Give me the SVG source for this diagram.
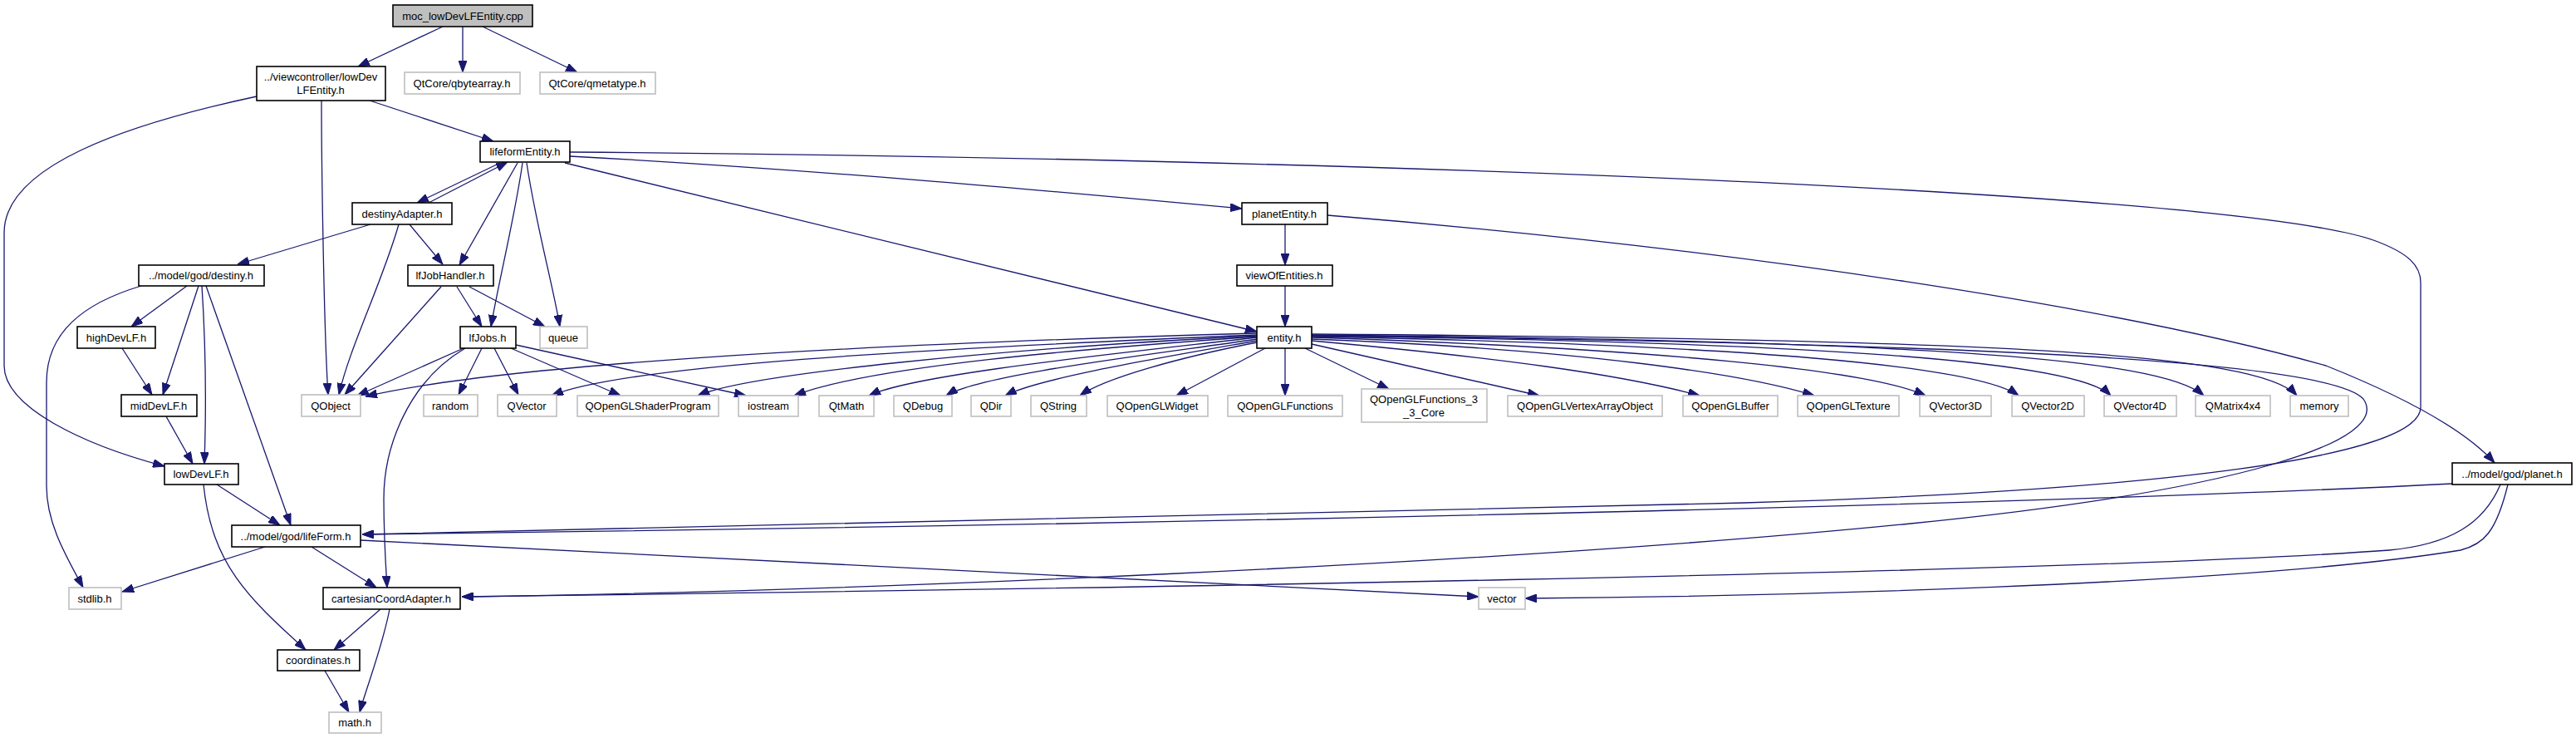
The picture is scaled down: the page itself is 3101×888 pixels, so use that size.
<svg xmlns="http://www.w3.org/2000/svg" width="3101" height="888" viewBox="0 0 3101 888">
<style>
.n rect{fill:#fff;stroke:#000;stroke-width:1.6}
.x rect{fill:#fff;stroke:#bfbfbf;stroke-width:1.6}
.r rect{fill:#bfbfbf;stroke:#000;stroke-width:1.6}
text{font-family:"Liberation Sans",Arial,sans-serif;font-size:13px;text-anchor:middle;fill:#000}
#edges path{fill:none;stroke:#191970;stroke-width:1.3;marker-end:url(#ah)}
</style>
<defs>
<marker id="ah" markerUnits="userSpaceOnUse" markerWidth="14" markerHeight="10" viewBox="0 0 14 10" refX="14" refY="5" orient="auto">
<path d="M0,0 L14,5 L0,10 z" fill="#191970" stroke="#191970" stroke-width="1"/>
</marker>
</defs>
<rect width="3101" height="888" fill="#fff"/>
<g id="edges">
<path d="M533,32 L431,80"/>
<path d="M557,32 L557,87"/>
<path d="M581,32 L695,87"/>
<path d="M445,121 L594,170"/>
<path d="M387,121 C387,200 390,400 395,475"/>
<path d="M309,116 C150,150 5,200 5,280 L5,440 C5,490 100,535 198,561"/>
<path d="M600,197 L502,244"/>
<path d="M516,244 L611,195"/>
<path d="M623,196 L553,319"/>
<path d="M629,196 C620,260 600,340 591,393"/>
<path d="M634,196 C645,270 665,340 674,393"/>
<path d="M680,196 L1513,399"/>
<path d="M686,188 C1000,205 1300,233 1495,251"/>
<path d="M686,183 C1600,190 2700,230 2860,290 C2900,305 2914,320 2914,340 L2914,490 C2914,550 2600,590 2100,605 C1500,622 900,637 436,643"/>
<path d="M1547,270 L1547,319"/>
<path d="M1547,344 L1547,393"/>
<path d="M1598,259 C2100,300 2550,370 2800,440 C2900,480 2970,520 3003,557"/>
<path d="M446,270 L286,318"/>
<path d="M480,270 C460,340 420,420 408,475"/>
<path d="M493,270 L533,318"/>
<path d="M531,345 L415,475"/>
<path d="M550,345 L580,393"/>
<path d="M565,345 L656,393"/>
<path d="M558,419 L430,476"/>
<path d="M560,419 C490,460 462,540 462,600 C462,650 465,690 466,707"/>
<path d="M580,419 L552,475"/>
<path d="M595,419 L624,475"/>
<path d="M615,419 L747,476"/>
<path d="M621,415 L898,476"/>
<path d="M170,344 C100,365 56,400 56,460 L56,585 C56,630 80,670 100,707"/>
<path d="M225,344 L158,393"/>
<path d="M239,344 L196,475"/>
<path d="M243,344 C248,420 248,500 246,558"/>
<path d="M248,344 L350,632"/>
<path d="M147,419 L183,475"/>
<path d="M200,501 L232,558"/>
<path d="M261,583 L337,632"/>
<path d="M245,583 C255,680 300,720 368,782"/>
<path d="M319,658 L147,712"/>
<path d="M375,658 L453,707"/>
<path d="M434,650 L1780,718"/>
<path d="M458,733 L402,782"/>
<path d="M469,733 C460,780 440,830 433,857"/>
<path d="M391,807 L420,857"/>
<path d="M2952,582 C2500,605 1500,630 436,643"/>
<path d="M3010,583 C2990,630 2950,655 2876,662 C2500,690 1200,710 556,718"/>
<path d="M3019,583 C3005,640 2990,655 2962,662 C2700,705 2100,718 1836,720"/>
<path d="M1579,404 C2300,412 2800,430 2845,480 C2880,530 2700,590 2300,630 C1800,680 1000,712 556,718"/>
<path d="M1513,401 C1000,415 600,440 440,477"/>
<path d="M1513,403 C1100,420 750,440 664,476"/>
<path d="M1513,404 C1200,420 900,450 840,476"/>
<path d="M1513,405 C1300,420 1050,440 956,476"/>
<path d="M1513,406 C1350,425 1100,450 1046,476"/>
<path d="M1513,408 C1400,425 1180,450 1139,476"/>
<path d="M1513,410 C1400,430 1250,455 1210,476"/>
<path d="M1513,412 C1420,430 1330,455 1300,476"/>
<path d="M1523,419 L1416,476"/>
<path d="M1547,419 L1547,476"/>
<path d="M1571,419 L1672,468"/>
<path d="M1579,414 L1853,476"/>
<path d="M1579,410 C1800,430 1950,450 2046,476"/>
<path d="M1579,408 C1900,420 2100,450 2184,476"/>
<path d="M1579,406 C2000,420 2250,445 2318,476"/>
<path d="M1579,405 C2100,415 2380,440 2430,476"/>
<path d="M1579,404 C2200,412 2500,435 2541,476"/>
<path d="M1579,403 C2300,410 2600,430 2653,476"/>
<path d="M1579,402 C2400,408 2720,425 2765,476"/>
</g>
<g id="moc" class="r"><rect x="473" y="6" width="168" height="26"/><text x="557" y="24">moc_lowDevLFEntity.cpp</text></g>
<g id="lowDevLFEntity" class="n"><rect x="309" y="80" width="155" height="41"/><text x="386" y="97">../viewcontroller/lowDev</text><text x="386" y="113">LFEntity.h</text></g>
<g id="qbytearray" class="x"><rect x="487" y="87" width="139" height="26"/><text x="556" y="105">QtCore/qbytearray.h</text></g>
<g id="qmetatype" class="x"><rect x="650" y="87" width="139" height="26"/><text x="719" y="105">QtCore/qmetatype.h</text></g>
<g id="lifeformEntity" class="n"><rect x="578" y="170" width="108" height="25"/><text x="632" y="187">lifeformEntity.h</text></g>
<g id="destinyAdapter" class="n"><rect x="424" y="244" width="120" height="26"/><text x="484" y="262">destinyAdapter.h</text></g>
<g id="planetEntity" class="n"><rect x="1495" y="244" width="103" height="26"/><text x="1546" y="262">planetEntity.h</text></g>
<g id="destiny" class="n"><rect x="167" y="319" width="151" height="25"/><text x="242" y="336">../model/god/destiny.h</text></g>
<g id="lfJobHandler" class="n"><rect x="491" y="319" width="103" height="25"/><text x="542" y="336">lfJobHandler.h</text></g>
<g id="viewOfEntities" class="n"><rect x="1489" y="319" width="115" height="25"/><text x="1546" y="336">viewOfEntities.h</text></g>
<g id="highDevLF" class="n"><rect x="93" y="393" width="94" height="26"/><text x="140" y="411">highDevLF.h</text></g>
<g id="lfJobs" class="n"><rect x="554" y="393" width="67" height="26"/><text x="587" y="411">lfJobs.h</text></g>
<g id="queue" class="x"><rect x="650" y="393" width="57" height="26"/><text x="678" y="411">queue</text></g>
<g id="entity" class="n"><rect x="1513" y="393" width="66" height="26"/><text x="1546" y="411">entity.h</text></g>
<g id="midDevLF" class="n"><rect x="146" y="475" width="91" height="26"/><text x="191" y="493">midDevLF.h</text></g>
<g id="QObject" class="x"><rect x="363" y="475" width="71" height="26"/><text x="398" y="493">QObject</text></g>
<g id="random" class="x"><rect x="510" y="475" width="65" height="26"/><text x="542" y="493">random</text></g>
<g id="QVector" class="x"><rect x="599" y="475" width="71" height="26"/><text x="634" y="493">QVector</text></g>
<g id="QOpenGLShaderProgram" class="x"><rect x="695" y="476" width="170" height="25"/><text x="780" y="493">QOpenGLShaderProgram</text></g>
<g id="iostream" class="x"><rect x="889" y="476" width="72" height="25"/><text x="925" y="493">iostream</text></g>
<g id="QtMath" class="x"><rect x="986" y="476" width="66" height="25"/><text x="1019" y="493">QtMath</text></g>
<g id="QDebug" class="x"><rect x="1076" y="476" width="70" height="25"/><text x="1111" y="493">QDebug</text></g>
<g id="QDir" class="x"><rect x="1169" y="476" width="48" height="25"/><text x="1193" y="493">QDir</text></g>
<g id="QString" class="x"><rect x="1241" y="476" width="67" height="25"/><text x="1274" y="493">QString</text></g>
<g id="QOpenGLWidget" class="x"><rect x="1333" y="476" width="121" height="25"/><text x="1393" y="493">QOpenGLWidget</text></g>
<g id="QOpenGLFunctions" class="x"><rect x="1478" y="476" width="138" height="25"/><text x="1547" y="493">QOpenGLFunctions</text></g>
<g id="QOpenGLFunctions_3_3_Core" class="x"><rect x="1639" y="468" width="151" height="40"/><text x="1714" y="485">QOpenGLFunctions_3</text><text x="1714" y="501">_3_Core</text></g>
<g id="QOpenGLVertexArrayObject" class="x"><rect x="1815" y="476" width="186" height="25"/><text x="1908" y="493">QOpenGLVertexArrayObject</text></g>
<g id="QOpenGLBuffer" class="x"><rect x="2026" y="476" width="114" height="25"/><text x="2083" y="493">QOpenGLBuffer</text></g>
<g id="QOpenGLTexture" class="x"><rect x="2164" y="476" width="122" height="25"/><text x="2225" y="493">QOpenGLTexture</text></g>
<g id="QVector3D" class="x"><rect x="2311" y="476" width="86" height="25"/><text x="2354" y="493">QVector3D</text></g>
<g id="QVector2D" class="x"><rect x="2422" y="476" width="87" height="25"/><text x="2465" y="493">QVector2D</text></g>
<g id="QVector4D" class="x"><rect x="2533" y="476" width="87" height="25"/><text x="2576" y="493">QVector4D</text></g>
<g id="QMatrix4x4" class="x"><rect x="2643" y="476" width="90" height="25"/><text x="2688" y="493">QMatrix4x4</text></g>
<g id="memory" class="x"><rect x="2757" y="476" width="70" height="25"/><text x="2792" y="493">memory</text></g>
<g id="lowDevLF" class="n"><rect x="198" y="558" width="89" height="25"/><text x="242" y="575">lowDevLF.h</text></g>
<g id="planet" class="n"><rect x="2952" y="557" width="144" height="26"/><text x="3024" y="575">../model/god/planet.h</text></g>
<g id="lifeForm" class="n"><rect x="279" y="632" width="155" height="26"/><text x="356" y="650">../model/god/lifeForm.h</text></g>
<g id="stdlib" class="x"><rect x="83" y="707" width="63" height="26"/><text x="114" y="725">stdlib.h</text></g>
<g id="cartesianCoordAdapter" class="n"><rect x="389" y="707" width="165" height="26"/><text x="471" y="725">cartesianCoordAdapter.h</text></g>
<g id="vector" class="x"><rect x="1780" y="707" width="56" height="26"/><text x="1808" y="725">vector</text></g>
<g id="coordinates" class="n"><rect x="334" y="782" width="99" height="25"/><text x="383" y="799">coordinates.h</text></g>
<g id="math" class="x"><rect x="396" y="857" width="63" height="25"/><text x="427" y="874">math.h</text></g>
</svg>
